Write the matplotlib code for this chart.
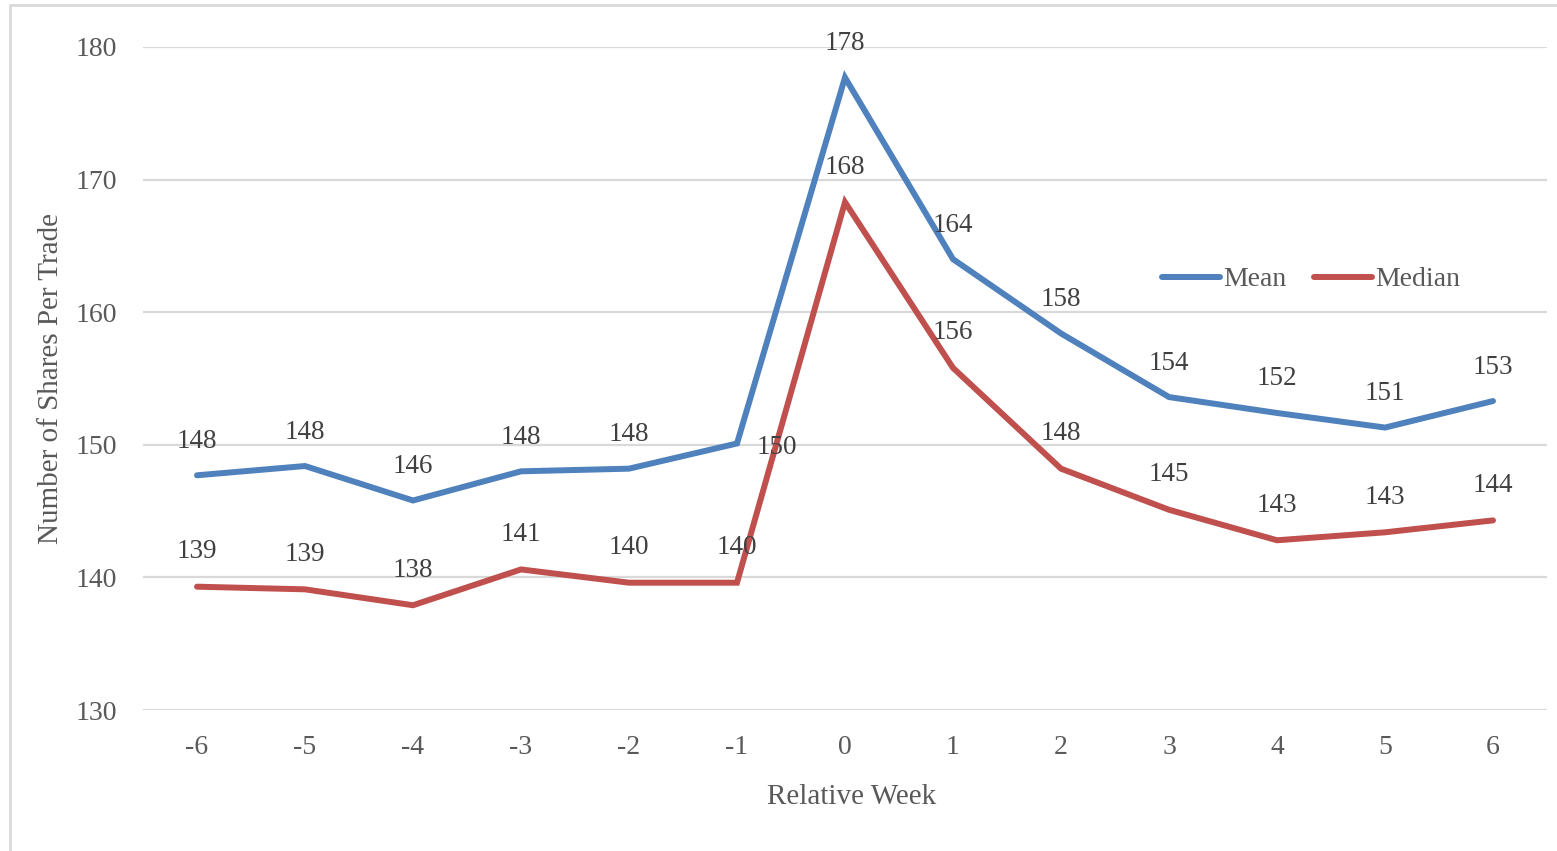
import matplotlib.pyplot as plt
from matplotlib.patches import Rectangle

weeks = [-6, -5, -4, -3, -2, -1, 0, 1, 2, 3, 4, 5, 6]
mean_shares = [147.7, 148.4, 145.8, 148.0, 148.2, 150.1, 177.7, 164.0, 158.4, 153.6, 152.4, 151.3, 153.3]
median_shares = [139.3, 139.1, 137.9, 140.6, 139.6, 139.6, 168.3, 155.8, 148.2, 145.1, 142.8, 143.4, 144.3]

plt.rcParams['font.family'] = ['Liberation Serif', 'DejaVu Serif']

BLUE = '#4F81BD'
RED = '#C0504D'
GRID = '#D9D9D9'
TICK = '#595959'
LABEL = '#404040'

fig = plt.figure(figsize=(15.57, 8.51), dpi=100)
# light chart-area border
fig.patches.append(Rectangle((10 / 1557, -0.1), 1.2, 1 - 5 / 851 + 0.1,
                             transform=fig.transFigure, fill=False,
                             edgecolor=GRID, linewidth=2))

ax = fig.add_axes([143 / 1557, 1 - 710 / 851, 1404 / 1557, 663 / 851])
ax.set_xlim(-6.5, 6.5)
ax.set_ylim(130, 180)
ax.set_yticks([130, 140, 150, 160, 170, 180])
ax.set_xticks(weeks)
ax.set_xticklabels([str(w) for w in weeks])
for s in ax.spines.values():
    s.set_visible(False)
ax.grid(axis='y', color=GRID, linewidth=1.6)
ax.set_axisbelow(True)
ax.tick_params(axis='both', length=0, labelsize=20, colors=TICK)
ax.tick_params(axis='y', pad=19)
ax.tick_params(axis='x', pad=18)

ax.plot(weeks, mean_shares, color=BLUE, linewidth=4.3, label='Mean',
        solid_joinstyle='miter', solid_capstyle='round')
ax.plot(weeks, median_shares, color=RED, linewidth=4.3, label='Median',
        solid_joinstyle='miter', solid_capstyle='round')

# value labels above each point (mean at week -1 sits to the right)
for w, v in zip(weeks, mean_shares):
    off = (40, -4) if w == -1 else (0, 34)
    ax.annotate(f'{v:.0f}', (w, v), xytext=off, textcoords='offset pixels',
                ha='center', va='center', fontsize=19.5, color=LABEL)
for w, v in zip(weeks, median_shares):
    ax.annotate(f'{v:.0f}', (w, v), xytext=(0, 35), textcoords='offset pixels',
                ha='center', va='center', fontsize=19.5, color=LABEL)

ax.set_xlabel('Relative Week', fontsize=21, color=TICK)
ax.xaxis.set_label_coords(0.505, -0.112)
ax.set_ylabel('Number of Shares Per Trade', fontsize=21, color=TICK, labelpad=8)

leg = ax.legend(loc='center', bbox_to_anchor=(0.832, 0.649), ncol=2,
                frameon=False, fontsize=20, handlelength=2.1,
                handletextpad=0.1, columnspacing=1.0)
for t in leg.get_texts():
    t.set_color(TICK)

fig.savefig('out.png', dpi=100)
